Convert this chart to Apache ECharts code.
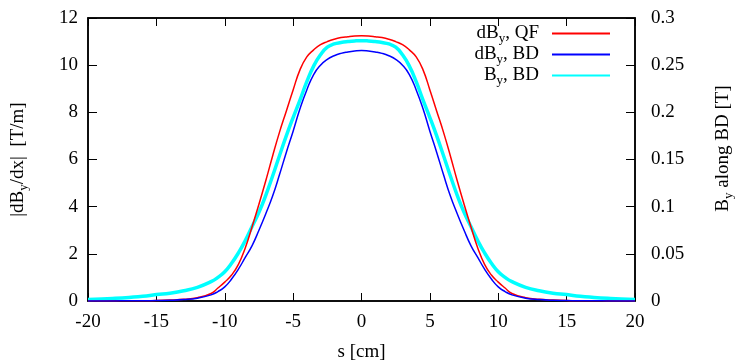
<!DOCTYPE html>
<html>
<head>
<meta charset="utf-8">
<script src="https://cdn.jsdelivr.net/npm/echarts@6/dist/echarts.min.js"></script>
<style>html,body{margin:0;padding:0;background:#fff}#c{width:735px;height:362px}</style>
</head>
<body>
<div id="c"></div>
<script>
// s positions [cm]
var sPos = [-20,-19,-18,-17,-16,-15,-14,-13,-12,-11,-10.5,-10,-9.5,-9,-8.5,-8,-7.5,-7,-6.5,-6,-5.5,-5,-4.5,-4,-3.5,-3,-2.5,-2,-1.5,-1,-0.5,0,
            0.5,1,1.5,2,2.5,3,3.5,4,4.5,5,5.5,6,6.5,7,7.5,8,8.5,9,9.5,10,10.5,11,12,13,14,15,16,17,18,19,20];
// |dBy/dx| QF [T/m]
var dByQF = [0,0,0.005,0.01,0.01,0.02,0.04,0.07,0.14,0.32,0.55,0.8,1.1,1.55,2.25,3.15,4.1,5.1,6.15,7.15,8.05,8.95,9.8,10.35,10.65,10.87,11.0,11.1,11.17,11.21,11.24,11.25,
             11.24,11.21,11.17,11.1,11.0,10.87,10.65,10.35,9.8,8.95,8.05,7.15,6.15,5.1,4.1,3.15,2.25,1.55,1.1,0.8,0.55,0.32,0.14,0.07,0.04,0.02,0.01,0.01,0.005,0,0];
// |dBy/dx| BD [T/m]
var dByBD = [0,0,0.005,0.01,0.01,0.02,0.03,0.06,0.12,0.26,0.4,0.6,0.93,1.35,1.85,2.35,3.0,3.7,4.45,5.35,6.3,7.2,8.15,8.95,9.6,10.0,10.25,10.4,10.5,10.56,10.6,10.62,
             10.6,10.56,10.5,10.4,10.25,10.0,9.6,8.95,8.15,7.2,6.3,5.35,4.45,3.7,3.0,2.35,1.85,1.35,0.93,0.6,0.4,0.26,0.12,0.06,0.03,0.02,0.01,0.01,0.005,0,0];
// By along BD [T]
var ByBD = [0.0015,0.002,0.0028,0.0038,0.005,0.0068,0.0083,0.0108,0.0145,0.0205,0.025,0.031,0.04,0.051,0.064,0.079,0.094,0.112,0.1325,0.154,0.175,0.1945,0.213,0.2325,0.249,0.261,0.269,0.2725,0.274,0.275,0.2757,0.276,
            0.2757,0.275,0.274,0.2725,0.269,0.261,0.249,0.2325,0.213,0.1945,0.175,0.154,0.1325,0.112,0.094,0.079,0.064,0.051,0.04,0.031,0.025,0.0205,0.0145,0.0108,0.0083,0.0068,0.005,0.0038,0.0028,0.002,0.0015];

var seriesNames = ['dBy, QF','dBy, BD','By, BD'];
var legendLabels = {'dBy, QF':'{a|dB}{s|y}{a|, QF}','dBy, BD':'{a|dB}{s|y}{a|, BD}','By, BD':'{a|B}{s|y}{a|, BD}'};

function pairs(vals){ return sPos.map(function(s,i){ return [s, vals[i]]; }); }

var FF = 'Liberation Serif';
var FS = 19;
var rich = {
  a:{fontFamily:FF,fontSize:FS,color:'#000'},
  s:{fontFamily:FF,fontSize:13,color:'#000',padding:[10,0,0,0]}
};

var chart = echarts.init(document.getElementById('c'));
chart.setOption({
  animation:false,
  backgroundColor:'#fff',
  grid:{left:88,right:100,top:18,bottom:61,outerBoundsMode:'none',containLabel:false,show:true,borderColor:'#000',borderWidth:1.5,backgroundColor:'transparent'},
  legend:{
    orient:'vertical', right:124, top:24, padding:0, align:'right', itemWidth:58, itemHeight:14, itemGap:0,
    data:seriesNames,
    itemStyle:{opacity:0},
    formatter:function(n){return legendLabels[n];},
    textStyle:{fontFamily:FF,fontSize:FS,color:'#000',rich:rich,padding:[0,8,0,0]}
  },
  xAxis:[{
    type:'value', min:-20, max:20, interval:5,
    name:'s [cm]', nameLocation:'middle', nameGap:42,
    nameTextStyle:{fontFamily:FF,fontSize:FS,color:'#000'},
    axisLine:{show:true,onZero:false,lineStyle:{color:'#000',width:1.5}},
    axisTick:{inside:true,length:8,lineStyle:{color:'#000'}},
    axisLabel:{fontFamily:FF,fontSize:FS,color:'#000',margin:12},
    splitLine:{show:false}
  },{
    type:'value', min:-20, max:20, interval:5, position:'top',
    axisLine:{show:true,onZero:false,lineStyle:{color:'#000',width:1.5}},
    axisTick:{inside:true,length:8,lineStyle:{color:'#000'}},
    axisLabel:{show:false}, splitLine:{show:false}
  }],
  yAxis:[{
    type:'value', min:0, max:12, interval:2, position:'left',
    name:'{a||dB}{s|y}{a|/dx|  [T/m]}', nameLocation:'middle', nameGap:58, nameRotate:90,
    nameTextStyle:{fontFamily:FF,fontSize:FS,color:'#000',rich:rich},
    axisLine:{show:true,onZero:false,lineStyle:{color:'#000',width:1.5}},
    axisTick:{inside:true,length:9,lineStyle:{color:'#000'}},
    axisLabel:{fontFamily:FF,fontSize:FS,color:'#000',margin:10},
    splitLine:{show:false}
  },{
    type:'value', min:0, max:0.3, interval:0.05, position:'right',
    name:'{a|B}{s|y}{a| along BD [T]}', nameLocation:'middle', nameGap:77, nameRotate:90,
    nameTextStyle:{fontFamily:FF,fontSize:FS,color:'#000',rich:rich,padding:[0,0,0,22]},
    axisLine:{show:true,onZero:false,lineStyle:{color:'#000',width:1.5}},
    axisTick:{inside:true,length:9,lineStyle:{color:'#000'}},
    axisLabel:{fontFamily:FF,fontSize:FS,color:'#000',margin:16},
    splitLine:{show:false}
  }],
  series:[
    {name:seriesNames[0],type:'line',yAxisIndex:0,data:pairs(dByQF),smooth:0.5,symbol:'none',lineStyle:{color:'#ff0000',width:1.5},itemStyle:{color:'#ff0000'},z:3},
    {name:seriesNames[1],type:'line',yAxisIndex:0,data:pairs(dByBD),smooth:0.5,symbol:'none',lineStyle:{color:'#0000ff',width:1.5},itemStyle:{color:'#0000ff'},z:3},
    {name:seriesNames[2],type:'line',yAxisIndex:1,data:pairs(ByBD),smooth:0.5,symbol:'none',lineStyle:{color:'#00ffff',width:3.5},itemStyle:{color:'#00ffff'},z:2}
  ]
});
</script>
</body>
</html>
